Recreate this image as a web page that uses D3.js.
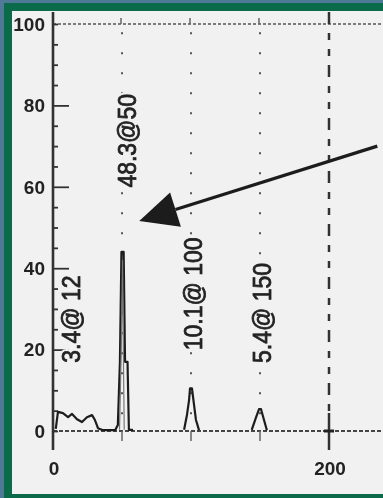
<!DOCTYPE html>
<html>
<head>
<meta charset="utf-8">
<script src="https://cdn.jsdelivr.net/npm/d3@7"></script>
<style>
  body { margin: 0; background: #4f7a97; }
  svg { display: block; }
</style>
</head>
<body>
<div id="chart"></div>
<script>
// y axis ticks and labels
const yTickLabels = [0, 20, 40, 60, 80, 100];
const xTickLabels = [0, 200];
const peakMarks = [50, 100, 150];

// trace, split where it sits on the baseline
const traceSegments = [
    [[2, 0.5], [3.6, 4.7], [7.2, 4.4], [10.9, 3.4], [13.8, 4.2], [17.4, 2.9], [21, 2.2],
     [24.6, 3.4], [28.3, 3.9], [30.4, 2.7], [32.6, 0.7], [36.2, 0.2], [45, 0.2], [47, 1.5],
     [48.5, 17], [49.6, 44], [51.2, 44], [52.2, 17], [54, 17], [55, 0.3], [58, 0.3]],
    [[95, 0.3], [97.1, 4], [98.6, 7.6], [99.3, 10.5], [100.7, 10.5], [102.2, 6.4], [103.6, 2.7], [105.8, 0.2]],
    [[144, 0.3], [147, 3.2], [149.3, 5.4], [150.7, 5.4], [152.9, 2.7], [155, 0.2]]
];

// inner stroke of the big peak (the scan shows it doubled)
const peakInner = [[48.2, 0.3], [49.4, 19], [50.4, 42], [51, 19], [51.6, 0.3]];

// rotated peak labels: text, x, y (data units of the label centre)
const peakLabels = [
    { text: '3.4@ 12', x: 13, y: 27.5 },
    { text: '48.3@50', x: 53, y: 71.3 },
    { text: '10.1@ 100', x: 100.7, y: 33.7 },
    { text: '5.4@ 150', x: 150.7, y: 29 }
];

// arrow annotation in data units
const arrowTail = [235, 70];
const arrowTip = [62.5, 51.6];

const width = 383;
const height = 498;

const svg = d3.select('#chart')
    .append('svg')
    .attr('width', width)
    .attr('height', height);

// scan-like softness
const defs = svg.append('defs');
defs.append('filter')
    .attr('id', 'scan')
    .append('feGaussianBlur')
    .attr('stdDeviation', 0.65);

// frame
svg.append('rect').attr('width', width).attr('height', height).attr('fill', '#4f7a97');
svg.append('rect').attr('x', 4).attr('y', 3).attr('width', width - 4).attr('height', height - 3).attr('fill', '#0b6a4a');
svg.append('rect').attr('x', 12).attr('y', 11).attr('width', width - 12).attr('height', 483).attr('fill', '#f1f1f1');

const x = d3.scaleLinear().domain([0, 200]).range([53, 329]);
const y = d3.scaleLinear().domain([0, 100]).range([431, 24]);

const g = svg.append('g').attr('filter', 'url(#scan)');
const ink = '#222';
const font = 'Liberation Sans, Arial, sans-serif';

// top dotted line at 100
g.append('line')
    .attr('x1', x(0)).attr('x2', width)
    .attr('y1', y(100)).attr('y2', y(100))
    .attr('stroke', '#555').attr('stroke-width', 1.6)
    .attr('stroke-dasharray', '3,2');

// baseline dotted at 0
g.append('line')
    .attr('x1', x(0)).attr('x2', width)
    .attr('y1', y(0)).attr('y2', y(0))
    .attr('stroke', '#444').attr('stroke-width', 2)
    .attr('stroke-dasharray', '4,2');

// sparse dotted verticals at the peaks
g.selectAll('.peakline')
    .data(peakMarks)
    .enter()
    .append('line')
    .attr('class', 'peakline')
    .attr('x1', d => x(d)).attr('x2', d => x(d))
    .attr('y1', y(98)).attr('y2', y(0))
    .attr('stroke', '#555').attr('stroke-width', 2)
    .attr('stroke-dasharray', '2,18');

// small ticks at the peaks, top and bottom
g.selectAll('.toptick')
    .data(peakMarks)
    .enter()
    .append('line')
    .attr('x1', d => x(d) - 1).attr('x2', d => x(d) - 1)
    .attr('y1', y(100) - 6).attr('y2', y(100))
    .attr('stroke', '#666').attr('stroke-width', 1.5);

g.selectAll('.bottick')
    .data(peakMarks)
    .enter()
    .append('line')
    .attr('x1', d => x(d)).attr('x2', d => x(d))
    .attr('y1', y(0)).attr('y2', y(0) + 10)
    .attr('stroke', '#666').attr('stroke-width', 1.5);

// dashed line at 200
g.append('line')
    .attr('x1', x(200)).attr('x2', x(200))
    .attr('y1', 12).attr('y2', y(0) - 18)
    .attr('stroke', '#333').attr('stroke-width', 2.5)
    .attr('stroke-dasharray', '12,9,7,9,7,9');
g.append('line')
    .attr('x1', x(200)).attr('x2', x(200))
    .attr('y1', y(0) - 18).attr('y2', y(0) + 19)
    .attr('stroke', '#333').attr('stroke-width', 2.5);
g.append('line')
    .attr('x1', x(200) - 5).attr('x2', x(200) + 5)
    .attr('y1', y(0)).attr('y2', y(0))
    .attr('stroke', '#222').attr('stroke-width', 3);

// y axis
const yAxis = d3.axisRight(y)
    .tickValues(d3.range(0, 101, 5))
    .tickSize(5)
    .tickFormat('');
const yAxisG = g.append('g')
    .attr('transform', `translate(${x(0)},0)`)
    .call(yAxis);
yAxisG.select('.domain').remove();
yAxisG.selectAll('line').attr('stroke', '#333').attr('stroke-width', 1.8);
yAxisG.selectAll('.tick')
    .filter(d => d % 20 === 0 && d > 0 && d < 100)
    .select('line')
    .attr('x2', 16);

g.append('line')
    .attr('x1', x(0)).attr('x2', x(0))
    .attr('y1', 12).attr('y2', y(0) + 19)
    .attr('stroke', '#333').attr('stroke-width', 2.6);

g.selectAll('.ylabel')
    .data(yTickLabels)
    .enter()
    .append('text')
    .attr('x', 45)
    .attr('y', d => y(d))
    .attr('dy', '0.36em')
    .attr('text-anchor', 'end')
    .attr('font-family', font)
    .attr('font-weight', 'bold')
    .attr('font-size', 19)
    .attr('fill', ink)
    .text(d => d);

g.selectAll('.xlabel')
    .data(xTickLabels)
    .enter()
    .append('text')
    .attr('x', d => x(d) + 1)
    .attr('y', 475)
    .attr('text-anchor', 'middle')
    .attr('font-family', font)
    .attr('font-weight', 'bold')
    .attr('font-size', 19)
    .attr('fill', ink)
    .text(d => d);

// trace
const line = d3.line()
    .x(d => x(d[0]))
    .y(d => y(d[1]));

g.selectAll('.trace')
    .data(traceSegments)
    .enter()
    .append('path')
    .attr('d', line)
    .attr('fill', 'none')
    .attr('stroke', '#1e1e1e')
    .attr('stroke-width', 2.2)
    .attr('stroke-linejoin', 'round');

g.append('path')
    .attr('d', line(peakInner))
    .attr('fill', 'none')
    .attr('stroke', '#777')
    .attr('stroke-width', 1.2);

// rotated labels: a panel-coloured halo first, then the ink
const labelTransform = d => `translate(${x(d.x)},${y(d.y)}) rotate(-90) scale(1,1.15)`;

g.selectAll('.plabel-halo')
    .data(peakLabels)
    .enter()
    .append('text')
    .attr('transform', labelTransform)
    .attr('text-anchor', 'middle')
    .attr('dy', '0.36em')
    .attr('font-family', font)
    .attr('font-size', 23)
    .attr('fill', '#f1f1f1')
    .attr('stroke', '#f1f1f1')
    .attr('stroke-width', 5)
    .text(d => d.text);

g.selectAll('.plabel')
    .data(peakLabels)
    .enter()
    .append('text')
    .attr('transform', labelTransform)
    .attr('text-anchor', 'middle')
    .attr('dy', '0.36em')
    .attr('font-family', font)
    .attr('font-size', 23)
    .attr('fill', '#222')
    .attr('stroke', '#222')
    .attr('stroke-width', 0.7)
    .text(d => d.text);

// arrow
const p0 = [x(arrowTail[0]), y(arrowTail[1])];
const p1 = [x(arrowTip[0]), y(arrowTip[1])];
const ang = Math.atan2(p1[1] - p0[1], p1[0] - p0[0]);
const headLen = 38, headHalf = 18;
const base = [p1[0] - headLen * Math.cos(ang), p1[1] - headLen * Math.sin(ang)];
const nx = -Math.sin(ang), ny = Math.cos(ang);

g.append('line')
    .attr('x1', p0[0]).attr('y1', p0[1])
    .attr('x2', base[0]).attr('y2', base[1])
    .attr('stroke', '#1e1e1e').attr('stroke-width', 3.2);

g.append('path')
    .attr('d', d3.line()([
        p1,
        [base[0] + nx * headHalf, base[1] + ny * headHalf],
        [base[0] - nx * headHalf, base[1] - ny * headHalf]
    ]) + 'Z')
    .attr('fill', '#1a1a1a');
</script>
</body>
</html>
